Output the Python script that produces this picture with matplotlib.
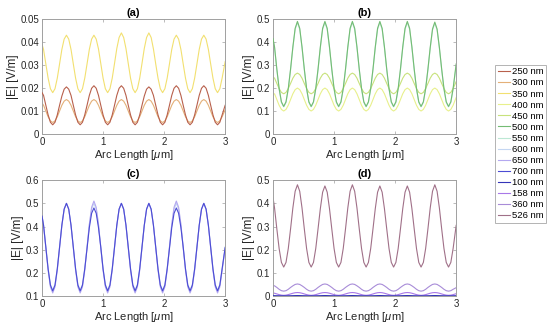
import numpy as np
import matplotlib
matplotlib.use("Agg")
import matplotlib.pyplot as plt

plt.rcParams["font.family"] = ["Liberation Sans", "DejaVu Sans"]
plt.rcParams["mathtext.fontset"] = "custom"
plt.rcParams["mathtext.it"] = "Liberation Sans:italic"

# arc length samples [um]: 0, then 0.025 .. 2.95 every 0.0375 (12 per period), then 3
arc_um = np.concatenate([[0.0], 0.025 + 0.0375 * np.arange(79), [3.0]])

# |E| [V/m]: value at 0, six rows of one 0.45 um period, tail, value at 3
e250 = [0.0180,
        0.0168, 0.0125, 0.0083, 0.0051, 0.0040, 0.0051, 0.0083, 0.0125, 0.0165, 0.0195, 0.0205, 0.0195,
        0.0168, 0.0125, 0.0083, 0.0051, 0.0040, 0.0051, 0.0083, 0.0125, 0.0168, 0.0199, 0.0210, 0.0199,
        0.0168, 0.0125, 0.0083, 0.0051, 0.0040, 0.0051, 0.0083, 0.0125, 0.0168, 0.0199, 0.0210, 0.0199,
        0.0168, 0.0125, 0.0083, 0.0051, 0.0040, 0.0051, 0.0083, 0.0125, 0.0165, 0.0195, 0.0205, 0.0195,
        0.0168, 0.0125, 0.0083, 0.0051, 0.0040, 0.0051, 0.0083, 0.0125, 0.0168, 0.0199, 0.0210, 0.0199,
        0.0168, 0.0125, 0.0083, 0.0051, 0.0040, 0.0051, 0.0083, 0.0125, 0.0168, 0.0199, 0.0210, 0.0199,
        0.0168, 0.0125, 0.0083, 0.0051, 0.0040, 0.0051, 0.0083,
        0.0125]
e300 = [0.0135,
        0.0125, 0.0100, 0.0075, 0.0057, 0.0050, 0.0057, 0.0075, 0.0100, 0.0125, 0.0143, 0.0150, 0.0143,
        0.0125, 0.0100, 0.0075, 0.0057, 0.0050, 0.0057, 0.0075, 0.0100, 0.0125, 0.0143, 0.0150, 0.0143,
        0.0125, 0.0100, 0.0075, 0.0057, 0.0050, 0.0057, 0.0075, 0.0100, 0.0125, 0.0143, 0.0150, 0.0143,
        0.0125, 0.0100, 0.0075, 0.0057, 0.0050, 0.0057, 0.0075, 0.0100, 0.0125, 0.0143, 0.0150, 0.0143,
        0.0125, 0.0100, 0.0075, 0.0057, 0.0050, 0.0057, 0.0075, 0.0100, 0.0125, 0.0143, 0.0150, 0.0143,
        0.0125, 0.0100, 0.0075, 0.0057, 0.0050, 0.0057, 0.0075, 0.0100, 0.0125, 0.0143, 0.0150, 0.0143,
        0.0125, 0.0100, 0.0075, 0.0057, 0.0050, 0.0057, 0.0075,
        0.0105]
e350 = [0.0390,
        0.0368, 0.0305, 0.0243, 0.0197, 0.0180, 0.0197, 0.0243, 0.0305, 0.0368, 0.0413, 0.0430, 0.0413,
        0.0368, 0.0305, 0.0243, 0.0197, 0.0180, 0.0197, 0.0243, 0.0305, 0.0368, 0.0413, 0.0430, 0.0413,
        0.0370, 0.0307, 0.0243, 0.0197, 0.0180, 0.0197, 0.0243, 0.0307, 0.0372, 0.0420, 0.0440, 0.0420,
        0.0372, 0.0307, 0.0243, 0.0197, 0.0180, 0.0197, 0.0243, 0.0307, 0.0372, 0.0420, 0.0440, 0.0420,
        0.0370, 0.0305, 0.0243, 0.0197, 0.0180, 0.0197, 0.0243, 0.0305, 0.0368, 0.0413, 0.0430, 0.0413,
        0.0368, 0.0305, 0.0243, 0.0197, 0.0180, 0.0197, 0.0243, 0.0305, 0.0368, 0.0413, 0.0430, 0.0413,
        0.0368, 0.0305, 0.0243, 0.0197, 0.0180, 0.0197, 0.0243,
        0.0315]
e400 = [0.172,
        0.175, 0.150, 0.125, 0.107, 0.100, 0.107, 0.125, 0.150, 0.175, 0.193, 0.200, 0.193,
        0.175, 0.150, 0.125, 0.107, 0.100, 0.107, 0.125, 0.150, 0.175, 0.193, 0.200, 0.193,
        0.175, 0.150, 0.125, 0.107, 0.100, 0.107, 0.125, 0.150, 0.175, 0.193, 0.200, 0.193,
        0.175, 0.150, 0.125, 0.107, 0.100, 0.107, 0.125, 0.150, 0.175, 0.193, 0.200, 0.193,
        0.175, 0.150, 0.125, 0.107, 0.100, 0.107, 0.125, 0.150, 0.175, 0.193, 0.200, 0.193,
        0.175, 0.150, 0.125, 0.107, 0.100, 0.107, 0.125, 0.150, 0.175, 0.193, 0.200, 0.193,
        0.175, 0.150, 0.125, 0.107, 0.100, 0.107, 0.125,
        0.159]
e450 = [0.248,
        0.243, 0.220, 0.198, 0.181, 0.175, 0.181, 0.198, 0.220, 0.243, 0.259, 0.265, 0.259,
        0.243, 0.220, 0.198, 0.181, 0.175, 0.181, 0.198, 0.220, 0.243, 0.259, 0.265, 0.259,
        0.243, 0.220, 0.198, 0.181, 0.175, 0.181, 0.198, 0.220, 0.243, 0.259, 0.265, 0.259,
        0.243, 0.220, 0.198, 0.181, 0.175, 0.181, 0.198, 0.220, 0.243, 0.259, 0.265, 0.259,
        0.243, 0.220, 0.198, 0.181, 0.175, 0.181, 0.198, 0.220, 0.243, 0.259, 0.265, 0.259,
        0.243, 0.220, 0.198, 0.181, 0.175, 0.181, 0.198, 0.220, 0.243, 0.259, 0.265, 0.259,
        0.243, 0.220, 0.198, 0.181, 0.175, 0.181, 0.198,
        0.228]
e500 = [0.415,
        0.379, 0.283, 0.198, 0.140, 0.120, 0.140, 0.198, 0.283, 0.379, 0.460, 0.490, 0.460,
        0.379, 0.283, 0.198, 0.140, 0.120, 0.140, 0.198, 0.283, 0.379, 0.460, 0.490, 0.460,
        0.379, 0.283, 0.198, 0.140, 0.120, 0.140, 0.198, 0.283, 0.379, 0.460, 0.490, 0.460,
        0.379, 0.283, 0.198, 0.140, 0.120, 0.140, 0.198, 0.283, 0.379, 0.460, 0.490, 0.460,
        0.379, 0.283, 0.198, 0.140, 0.120, 0.140, 0.198, 0.283, 0.379, 0.460, 0.490, 0.460,
        0.379, 0.283, 0.198, 0.140, 0.120, 0.140, 0.198, 0.283, 0.377, 0.457, 0.487, 0.457,
        0.377, 0.283, 0.198, 0.140, 0.120, 0.140, 0.198,
        0.305]
e550 = [0.410,
        0.375, 0.279, 0.195, 0.137, 0.118, 0.137, 0.195, 0.279, 0.375, 0.455, 0.485, 0.455,
        0.375, 0.279, 0.195, 0.137, 0.118, 0.137, 0.195, 0.279, 0.375, 0.455, 0.485, 0.455,
        0.375, 0.279, 0.195, 0.137, 0.118, 0.137, 0.195, 0.279, 0.375, 0.455, 0.485, 0.455,
        0.375, 0.279, 0.195, 0.137, 0.118, 0.137, 0.195, 0.279, 0.375, 0.455, 0.485, 0.455,
        0.375, 0.279, 0.195, 0.137, 0.118, 0.137, 0.195, 0.279, 0.375, 0.455, 0.485, 0.455,
        0.375, 0.279, 0.195, 0.137, 0.118, 0.137, 0.195, 0.279, 0.373, 0.452, 0.482, 0.452,
        0.373, 0.279, 0.195, 0.137, 0.118, 0.137, 0.195,
        0.300]
e600 = [0.445,
        0.406, 0.313, 0.219, 0.150, 0.125, 0.150, 0.219, 0.313, 0.406, 0.475, 0.500, 0.475,
        0.406, 0.313, 0.219, 0.150, 0.125, 0.150, 0.219, 0.313, 0.406, 0.475, 0.500, 0.475,
        0.406, 0.313, 0.219, 0.150, 0.125, 0.150, 0.219, 0.313, 0.406, 0.475, 0.500, 0.475,
        0.406, 0.313, 0.219, 0.150, 0.125, 0.150, 0.219, 0.313, 0.406, 0.475, 0.500, 0.475,
        0.406, 0.313, 0.219, 0.150, 0.125, 0.150, 0.219, 0.313, 0.406, 0.475, 0.500, 0.475,
        0.406, 0.313, 0.219, 0.150, 0.125, 0.150, 0.219, 0.313, 0.406, 0.475, 0.500, 0.475,
        0.406, 0.313, 0.219, 0.150, 0.125, 0.150, 0.219,
        0.310]
e650 = [0.445,
        0.403, 0.307, 0.210, 0.139, 0.113, 0.139, 0.210, 0.307, 0.403, 0.474, 0.500, 0.474,
        0.403, 0.307, 0.210, 0.139, 0.113, 0.139, 0.210, 0.310, 0.410, 0.483, 0.510, 0.483,
        0.410, 0.307, 0.210, 0.139, 0.113, 0.139, 0.210, 0.307, 0.403, 0.474, 0.500, 0.474,
        0.403, 0.307, 0.210, 0.139, 0.113, 0.139, 0.210, 0.307, 0.403, 0.474, 0.500, 0.474,
        0.403, 0.307, 0.210, 0.139, 0.113, 0.139, 0.210, 0.310, 0.410, 0.483, 0.510, 0.483,
        0.410, 0.307, 0.210, 0.139, 0.113, 0.139, 0.210, 0.307, 0.403, 0.474, 0.500, 0.474,
        0.403, 0.307, 0.210, 0.139, 0.113, 0.139, 0.210,
        0.305]
e700 = [0.445,
        0.406, 0.311, 0.217, 0.147, 0.122, 0.147, 0.217, 0.311, 0.406, 0.475, 0.500, 0.475,
        0.406, 0.311, 0.217, 0.147, 0.122, 0.147, 0.217, 0.305, 0.395, 0.457, 0.480, 0.457,
        0.395, 0.311, 0.217, 0.147, 0.122, 0.147, 0.217, 0.311, 0.406, 0.475, 0.500, 0.475,
        0.406, 0.311, 0.217, 0.147, 0.122, 0.147, 0.217, 0.311, 0.406, 0.475, 0.500, 0.475,
        0.406, 0.311, 0.217, 0.147, 0.122, 0.147, 0.217, 0.305, 0.395, 0.457, 0.480, 0.457,
        0.395, 0.311, 0.217, 0.147, 0.122, 0.147, 0.217, 0.311, 0.406, 0.475, 0.500, 0.475,
        0.406, 0.311, 0.217, 0.147, 0.122, 0.147, 0.217,
        0.310]
e100 = [0.0016,
        0.0015, 0.0012, 0.0010, 0.0008, 0.0008, 0.0008, 0.0010, 0.0012, 0.0015, 0.0018, 0.0020, 0.0018,
        0.0015, 0.0012, 0.0010, 0.0008, 0.0008, 0.0008, 0.0010, 0.0012, 0.0015, 0.0018, 0.0020, 0.0018,
        0.0015, 0.0012, 0.0010, 0.0008, 0.0008, 0.0008, 0.0010, 0.0012, 0.0015, 0.0018, 0.0020, 0.0018,
        0.0015, 0.0012, 0.0010, 0.0008, 0.0008, 0.0008, 0.0010, 0.0012, 0.0015, 0.0018, 0.0020, 0.0018,
        0.0015, 0.0012, 0.0010, 0.0008, 0.0008, 0.0008, 0.0010, 0.0012, 0.0015, 0.0018, 0.0020, 0.0018,
        0.0015, 0.0012, 0.0010, 0.0008, 0.0008, 0.0008, 0.0010, 0.0012, 0.0015, 0.0018, 0.0020, 0.0018,
        0.0015, 0.0012, 0.0010, 0.0008, 0.0008, 0.0008, 0.0010,
        0.0013]
e158 = [0.0125,
        0.0120, 0.0090, 0.0060, 0.0038, 0.0030, 0.0038, 0.0060, 0.0090, 0.0120, 0.0142, 0.0150, 0.0142,
        0.0120, 0.0090, 0.0060, 0.0038, 0.0030, 0.0038, 0.0060, 0.0090, 0.0120, 0.0142, 0.0150, 0.0142,
        0.0120, 0.0090, 0.0060, 0.0038, 0.0030, 0.0038, 0.0060, 0.0090, 0.0120, 0.0142, 0.0150, 0.0142,
        0.0120, 0.0090, 0.0060, 0.0038, 0.0030, 0.0038, 0.0060, 0.0090, 0.0120, 0.0142, 0.0150, 0.0142,
        0.0120, 0.0090, 0.0060, 0.0038, 0.0030, 0.0038, 0.0060, 0.0090, 0.0120, 0.0142, 0.0150, 0.0142,
        0.0120, 0.0090, 0.0060, 0.0038, 0.0030, 0.0038, 0.0060, 0.0090, 0.0120, 0.0142, 0.0150, 0.0142,
        0.0120, 0.0090, 0.0060, 0.0038, 0.0030, 0.0038, 0.0060,
        0.0100]
e360 = [0.045,
        0.044, 0.037, 0.029, 0.023, 0.021, 0.023, 0.029, 0.037, 0.044, 0.050, 0.052, 0.050,
        0.044, 0.037, 0.029, 0.023, 0.021, 0.023, 0.029, 0.037, 0.044, 0.050, 0.052, 0.050,
        0.044, 0.037, 0.029, 0.023, 0.021, 0.023, 0.029, 0.037, 0.044, 0.050, 0.052, 0.050,
        0.044, 0.037, 0.029, 0.023, 0.021, 0.023, 0.029, 0.037, 0.044, 0.050, 0.052, 0.050,
        0.044, 0.037, 0.029, 0.023, 0.021, 0.023, 0.029, 0.037, 0.044, 0.050, 0.052, 0.050,
        0.044, 0.037, 0.029, 0.023, 0.021, 0.023, 0.029, 0.037, 0.044, 0.050, 0.052, 0.050,
        0.044, 0.037, 0.029, 0.023, 0.021, 0.023, 0.029,
        0.036]
e526 = [0.425,
        0.380, 0.290, 0.205, 0.145, 0.125, 0.145, 0.205, 0.290, 0.380, 0.452, 0.480, 0.452,
        0.380, 0.290, 0.205, 0.145, 0.125, 0.145, 0.205, 0.290, 0.377, 0.448, 0.475, 0.448,
        0.377, 0.290, 0.205, 0.145, 0.125, 0.145, 0.205, 0.290, 0.380, 0.452, 0.480, 0.452,
        0.380, 0.290, 0.205, 0.145, 0.125, 0.145, 0.205, 0.290, 0.377, 0.448, 0.475, 0.448,
        0.377, 0.290, 0.205, 0.145, 0.125, 0.145, 0.205, 0.290, 0.377, 0.448, 0.475, 0.448,
        0.377, 0.290, 0.205, 0.145, 0.125, 0.145, 0.205, 0.290, 0.380, 0.452, 0.480, 0.452,
        0.380, 0.290, 0.205, 0.145, 0.125, 0.145, 0.205,
        0.305]

labels = ["250 nm", "300 nm", "350 nm", "400 nm", "450 nm", "500 nm", "550 nm",
          "600 nm", "650 nm", "700 nm", "100 nm", "158 nm", "360 nm", "526 nm"]
series = [e250, e300, e350, e400, e450, e500, e550,
          e600, e650, e700, e100, e158, e360, e526]
colors = ["#b8604c", "#e4b078", "#f2e070", "#e8f08c", "#c8e27c", "#74bc74", "#bce8d4",
          "#c4d6f2", "#b4a8f0", "#4c4cd4", "#3434b8", "#a878e8", "#a88cd8", "#a07088"]
panel_of = [0, 0, 0, 1, 1, 1, 1, 2, 2, 2, 3, 3, 3, 3]
layer = [3, 2, 2, 2, 2, 3, 1, 1, 2, 3, 3, 2, 2, 2]

titles = ["(a)", "(b)", "(c)", "(d)"]
ylims = [(0, 0.05), (0, 0.5), (0.1, 0.6), (0, 0.5)]
yticks = [[0, 0.01, 0.02, 0.03, 0.04, 0.05],
          [0, 0.1, 0.2, 0.3, 0.4, 0.5],
          [0.1, 0.2, 0.3, 0.4, 0.5, 0.6],
          [0, 0.1, 0.2, 0.3, 0.4, 0.5]]
ytick_labels = [["0", "0.01", "0.02", "0.03", "0.04", "0.05"],
                ["0", "0.1", "0.2", "0.3", "0.4", "0.5"],
                ["0.1", "0.2", "0.3", "0.4", "0.5", "0.6"],
                ["0", "0.1", "0.2", "0.3", "0.4", "0.5"]]
xticks = [0, 1, 2, 3]

fig = plt.figure(figsize=(5.5, 3.31), dpi=100)
rects = [(0.0764, 0.5952, 0.333, 0.347),
         (0.4964, 0.5952, 0.333, 0.347),
         (0.0764, 0.1057, 0.333, 0.350),
         (0.4964, 0.1057, 0.333, 0.350)]
axes = [fig.add_axes(r) for r in rects]

handles = []
for vals, lab, col, p, z in zip(series, labels, colors, panel_of, layer):
    line, = axes[p].plot(arc_um, vals, color=col, lw=0.8, label=lab, zorder=z)
    handles.append(line)

for i, ax in enumerate(axes):
    ax.set_xlim(0, 3)
    ax.set_ylim(*ylims[i])
    ax.set_xticks(xticks)
    ax.set_xticklabels([str(t) for t in xticks])
    ax.set_yticks(yticks[i])
    ax.set_yticklabels(ytick_labels[i])
    ax.tick_params(direction="in", length=2, width=0.5, top=True, right=True,
                   labelsize=7, colors="#a0a0a0", labelcolor="#262626", pad=2)
    for s in ax.spines.values():
        s.set_color("#a0a0a0")
        s.set_linewidth(0.7)
    ax.set_title(titles[i], fontsize=8, fontweight="bold", pad=2)
    ax.set_xlabel("Arc Length [$\\mu$m]", fontsize=8, labelpad=1, color="#262626")
    ax.set_ylabel("|E| [V/m]", fontsize=8.5, labelpad=1, color="#262626")

leg = fig.legend(handles=handles, loc="upper left", bbox_to_anchor=(0.9, 0.805),
                 fontsize=6.8, frameon=True, fancybox=False, handlelength=1.3,
                 handletextpad=0.15, labelspacing=0.22, borderpad=0.3,
                 borderaxespad=0)
leg.get_frame().set_edgecolor("#a0a0a0")
leg.get_frame().set_linewidth(0.7)
for h in leg.get_lines():
    h.set_linewidth(0.8)

fig.savefig("out.png", dpi=100)
